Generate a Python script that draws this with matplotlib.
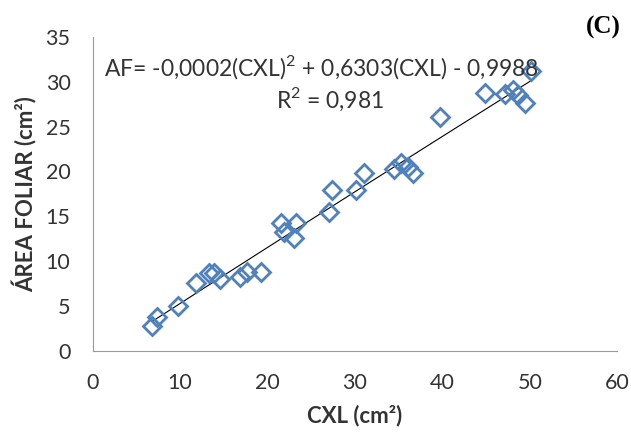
import numpy as np
import matplotlib.pyplot as plt

# Datos
cxl = [6.8, 7.3, 9.7, 11.8, 13.3, 13.9, 14.6, 16.9, 17.6, 19.3,
       21.5, 21.9, 23.2, 23.0, 27.0, 27.4, 30.1, 31.0, 34.5, 35.3,
       36.1, 36.7, 39.7, 44.9, 47.2, 48.1, 48.7, 49.5, 50.2]
af = [2.8, 3.8, 5.0, 7.6, 8.7, 8.7, 8.0, 8.2, 8.8, 8.8,
      14.3, 13.2, 14.3, 12.6, 15.5, 17.9, 17.9, 19.8, 20.3, 20.9,
      20.5, 19.8, 26.1, 28.7, 28.6, 29.1, 28.5, 27.6, 31.2]

eq_text = 'AF= -0,0002(CXL)$^2$ + 0,6303(CXL) - 0,9988'
r2_text = 'R$^2$ = 0,981'

plt.rcParams['font.family'] = ['Lato', 'DejaVu Sans']
plt.rcParams['mathtext.fontset'] = 'custom'
plt.rcParams['mathtext.rm'] = 'Lato'

fig = plt.figure(figsize=(6.31, 4.38), dpi=100)
ax = fig.add_axes([0.147, 0.199, 0.831, 0.717])

# Línea de tendencia polinómica
xt = np.linspace(min(cxl), max(cxl), 200)
yt = -0.0002 * xt**2 + 0.6303 * xt - 0.9988
ax.plot(xt, yt, color='black', linewidth=0.8)

ax.plot(cxl, af, linestyle='none', marker='D', markersize=9.5,
        markerfacecolor='none', markeredgecolor='#4F81BD', markeredgewidth=2)

ax.set_xlim(0, 60)
ax.set_ylim(0, 35)
ax.set_xticks(range(0, 61, 10))
ax.set_yticks(range(0, 36, 5))
ax.tick_params(length=0, labelsize=15.5, colors='#333333')
ax.tick_params(axis='x', pad=16)
ax.tick_params(axis='y', pad=16)
for s in ['top', 'right']:
    ax.spines[s].set_visible(False)
for s in ['left', 'bottom']:
    ax.spines[s].set_color('#9a9a9a')

ax.set_xlabel('CXL (cm²)', fontsize=16, fontweight='bold', labelpad=8,
              color='#333333')
ax.set_ylabel('ÁREA FOLIAR (cm²)', fontsize=16, fontweight='bold', labelpad=6,
              color='#333333')

ax.text(0.437, 0.905, eq_text, transform=ax.transAxes, ha='center',
        va='center', fontsize=16.5, color='#333333')
ax.text(0.452, 0.80, r2_text, transform=ax.transAxes, ha='center',
        va='center', fontsize=16.5, color='#333333')

fig.text(0.956, 0.938, '(C)', family='Liberation Serif', fontweight='bold',
         fontsize=18, ha='center', va='center')

plt.savefig('out.png', dpi=100)
